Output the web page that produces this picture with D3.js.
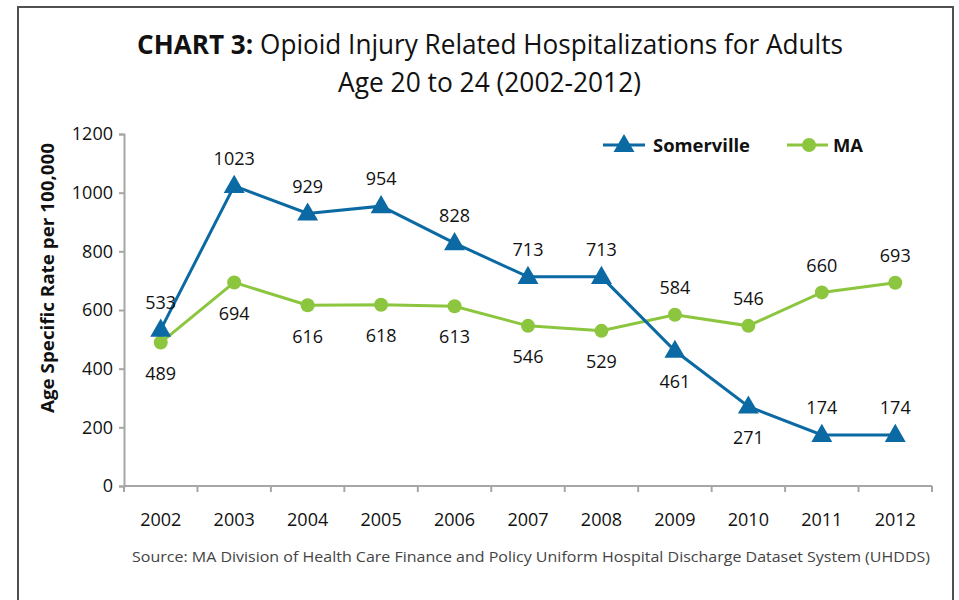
<!DOCTYPE html>
<html>
<head>
<meta charset="utf-8">
<script src="https://cdn.jsdelivr.net/npm/d3@7"></script>
<style>
  html, body { margin: 0; padding: 0; background: #fff; }
  svg { display: block; font-family: "Open Sans", "Noto Sans", sans-serif; }
</style>
</head>
<body>
<svg id="chart" width="959" height="600"></svg>
<script>
// Opioid injury related hospitalizations, ages 20-24, rate per 100,000
const years = ["2002", "2003", "2004", "2005", "2006", "2007", "2008", "2009", "2010", "2011", "2012"];
const somerville = [533, 1023, 929, 954, 828, 713, 713, 461, 271, 174, 174];
const ma = [489, 694, 616, 618, 613, 546, 529, 584, 546, 660, 693];
// where each data label sits relative to its marker
const somervilleLabelPos = ["above", "above", "above", "above", "above", "above", "above", "below", "below", "above", "above"];
const maLabelPos = ["below", "below", "below", "below", "below", "below", "below", "above", "above", "above", "above"];
const yTicks = [0, 200, 400, 600, 800, 1000, 1200];

const BLUE = "#0b69a3";
const GREEN = "#8cc63f";
const AXIS = "#a6a6a6";

const svg = d3.select("#chart");

// outer frame
svg.append("rect")
  .attr("x", 18).attr("y", 7)
  .attr("width", 935).attr("height", 620)
  .attr("fill", "none")
  .attr("stroke", "#505050")
  .attr("stroke-width", 2);

// title
const title = svg.append("g").attr("fill", "#111");
const t1 = title.append("text")
  .attr("x", 137).attr("y", 54)
  .attr("font-size", 27)
  .attr("textLength", 706)
  .attr("lengthAdjust", "spacingAndGlyphs");
t1.append("tspan").attr("font-weight", "bold").text("CHART 3:");
t1.append("tspan").text(" Opioid Injury Related Hospitalizations for Adults");
title.append("text")
  .attr("x", 338).attr("y", 92)
  .attr("font-size", 27)
  .attr("textLength", 303)
  .attr("lengthAdjust", "spacingAndGlyphs")
  .text("Age 20 to 24 (2002-2012)");

// scales
const x = d3.scaleBand().domain(years).range([124, 932]);
const y = d3.scaleLinear().domain([0, 1200]).range([486, 134]);
const cx = d => x(d) + x.bandwidth() / 2;

// y axis
const yAxis = svg.append("g")
  .attr("transform", "translate(124,0)")
  .call(d3.axisLeft(y).tickValues(yTicks).tickSize(5).tickPadding(6).tickFormat(d3.format("d")));
yAxis.select(".domain").attr("stroke", AXIS).attr("stroke-width", 2);
yAxis.selectAll(".tick line").attr("stroke", AXIS).attr("stroke-width", 2);
yAxis.selectAll(".tick text")
  .attr("font-size", 18).attr("fill", "#111")
  .attr("font-family", "'Open Sans', sans-serif");

// x axis: ticks on category boundaries
const xAxisG = svg.append("g").attr("transform", "translate(0,486)");
xAxisG.append("line")
  .attr("x1", 124).attr("x2", 932)
  .attr("stroke", AXIS).attr("stroke-width", 2);
const boundaries = years.map(d => x(d)).concat([x(years[years.length - 1]) + x.bandwidth()]);
xAxisG.selectAll("line.tk").data(boundaries).join("line")
  .attr("class", "tk")
  .attr("x1", d => d).attr("x2", d => d)
  .attr("y1", 0).attr("y2", 6)
  .attr("stroke", AXIS).attr("stroke-width", 2);
xAxisG.selectAll("text").data(years).join("text")
  .attr("x", d => cx(d)).attr("y", 40)
  .attr("text-anchor", "middle")
  .attr("font-size", 18).attr("fill", "#111")
  .text(d => d);

// y axis title
svg.append("text")
  .attr("transform", "translate(54,278) rotate(-90)")
  .attr("text-anchor", "middle")
  .attr("font-size", 18).attr("font-weight", "bold").attr("fill", "#111")
  .attr("textLength", 270)
  .attr("lengthAdjust", "spacingAndGlyphs")
  .text("Age Specific Rate per 100,000");

// lines
const line = d3.line().x(d => cx(d.year)).y(d => y(d.value));
const somervilleData = years.map((yr, i) => ({ year: yr, value: somerville[i], pos: somervilleLabelPos[i] }));
const maData = years.map((yr, i) => ({ year: yr, value: ma[i], pos: maLabelPos[i] }));

svg.append("path").datum(maData)
  .attr("d", line).attr("fill", "none")
  .attr("stroke", GREEN).attr("stroke-width", 3);
svg.append("path").datum(somervilleData)
  .attr("d", line).attr("fill", "none")
  .attr("stroke", BLUE).attr("stroke-width", 3);

// markers
const tri = d3.symbol().type(d3.symbolTriangle).size(190);
svg.selectAll("circle.ma").data(maData).join("circle")
  .attr("class", "ma")
  .attr("cx", d => cx(d.year)).attr("cy", d => y(d.value))
  .attr("r", 7).attr("fill", GREEN);
svg.selectAll("path.sv").data(somervilleData).join("path")
  .attr("class", "sv")
  .attr("d", tri)
  .attr("transform", d => `translate(${cx(d.year)},${y(d.value) + 1})`)
  .attr("fill", BLUE);

// data labels
function drawLabels(data) {
  svg.append("g").selectAll("text").data(data).join("text")
    .attr("x", d => cx(d.year))
    .attr("y", d => y(d.value) + (d.pos === "above" ? -27 : 31))
    .attr("dy", "0.35em")
    .attr("text-anchor", "middle")
    .attr("font-size", 18).attr("fill", "#111")
    .text(d => d.value);
}
drawLabels(somervilleData);
drawLabels(maData);

// legend
const legend = svg.append("g").attr("font-size", 18).attr("font-weight", "bold").attr("fill", "#111");
legend.append("line").attr("x1", 603).attr("x2", 645).attr("y1", 145).attr("y2", 145)
  .attr("stroke", BLUE).attr("stroke-width", 3);
legend.append("path").attr("d", tri).attr("transform", "translate(624,146)").attr("fill", BLUE);
legend.append("text").attr("x", 653).attr("y", 152)
  .attr("textLength", 97).attr("lengthAdjust", "spacingAndGlyphs")
  .text("Somerville");
legend.append("line").attr("x1", 787).attr("x2", 828).attr("y1", 145).attr("y2", 145)
  .attr("stroke", GREEN).attr("stroke-width", 3);
legend.append("circle").attr("cx", 809).attr("cy", 145).attr("r", 7).attr("fill", GREEN);
legend.append("text").attr("x", 833).attr("y", 152)
  .attr("textLength", 30).attr("lengthAdjust", "spacingAndGlyphs")
  .text("MA");

// source note
svg.append("text")
  .attr("x", 132).attr("y", 562)
  .attr("font-size", 15).attr("fill", "#444")
  .attr("textLength", 798)
  .attr("lengthAdjust", "spacingAndGlyphs")
  .text("Source: MA Division of Health Care Finance and Policy Uniform Hospital Discharge Dataset System  (UHDDS)");
</script>
</body>
</html>
